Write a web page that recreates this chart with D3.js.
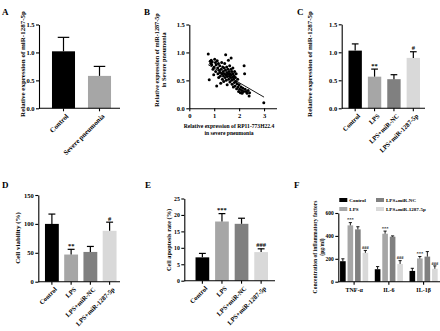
<!DOCTYPE html>
<html>
<head>
<meta charset="utf-8">
<script src="https://cdn.jsdelivr.net/npm/d3@7/dist/d3.min.js"></script>
<style>
body { margin: 0; background: #fff; }
svg text { font-family: "Liberation Serif", "Times New Roman", serif; font-weight: bold; fill: #000; }
</style>
</head>
<body>
<svg id="fig" width="440" height="331"></svg>
<script>
// ---- data ----
var aGroups = ["Control", "Severe pneumonia"],
    aMeans = [1.02, 0.58],
    aErrs = [0.25, 0.17];

// B: scatter (RP11-773H22.4 vs miR-1287-5p)
var bX = [0.76,0.80,0.84,0.86,0.88,0.90,0.92,0.95,0.98,1.00,
          1.02,1.05,1.06,1.08,1.10,1.12,1.14,1.15,1.17,1.18,
          1.20,1.22,1.23,1.25,1.26,1.28,1.30,1.31,1.33,1.34,
          1.36,1.37,1.38,1.40,1.41,1.42,1.44,1.45,1.46,1.47,
          1.48,1.50,1.51,1.52,1.53,1.55,1.56,1.57,1.58,1.60,
          1.61,1.62,1.63,1.64,1.66,1.67,1.68,1.69,1.70,1.71,
          1.72,1.74,1.75,1.76,1.77,1.78,1.80,1.81,1.82,1.84,
          1.85,1.87,1.88,1.90,1.92,1.94,1.96,1.98,2.00,2.02,
          2.05,2.08,2.10,2.12,2.15,2.18,2.20,2.22,2.24,2.28,
          2.32,2.36,2.40,2.42,2.99];
var bY = [0.97,0.51,0.84,0.80,0.86,0.78,0.83,0.70,0.60,0.74,
          0.88,0.82,0.66,0.78,0.40,0.85,0.72,0.62,0.80,0.55,
          0.68,0.76,0.64,0.58,0.45,0.70,0.82,0.62,0.52,0.74,
          0.66,0.58,0.48,0.72,0.62,0.80,0.55,0.68,0.96,0.60,
          0.50,0.74,0.64,0.42,0.57,0.70,0.62,0.86,0.52,0.66,
          0.58,0.76,0.47,0.62,0.55,0.70,0.90,0.60,0.50,0.66,
          0.43,0.56,0.72,0.62,0.38,0.52,0.58,0.46,0.66,0.40,
          0.55,0.48,0.62,0.35,0.44,0.52,0.38,0.30,0.42,0.34,
          0.28,0.38,0.32,0.27,0.36,0.30,0.76,0.62,0.34,0.30,
          0.27,0.32,0.22,0.28,0.10];
var bFitX = [0.76, 3.0],
    bFitY = [0.78, 0.20];

var cellGroups = ["Control", "LPS", "LPS+miR-NC", "LPS+miR-1287-5p"];
var cMeans = [1.03, 0.565, 0.52, 0.90],
    cErrs = [0.12, 0.135, 0.08, 0.11],
    cMarks = ["", "**", "", "#"];
var dMeans = [100, 47, 51.5, 88],
    dErrs = [17, 9, 9.5, 15],
    dMarks = ["", "**", "", "#"];
var eMeans = [7.1, 18, 17.3, 8.7],
    eErrs = [1.2, 2.4, 1.7, 1.0],
    eMarks = ["", "***", "", "###"];
var eTicks = [0, 5, 10, 15, 20, 25];

var fFactors = ["TNF-α", "IL-6", "IL-1β"];
var fControl = [179, 109, 94],
    fLPS = [492, 419, 203],
    fNC = [457, 393, 219],
    f1287 = [252, 155, 113];
var fControlErr = [21, 23, 23],
    fLPSErr = [24, 23, 17],
    fNCErr = [23, 7, 44],
    f1287Err = [21, 29, 25];
var fLPSMarks = ["***", "***", "***"],
    f1287Marks = ["###", "###", "###"];

var barColors = ["#000000", "#a6a6a6", "#808080", "#d9d9d9"];

var svg = d3.select("#fig");

function yLabel(lines, x, cy, size, gap){
  lines.forEach(function(t, i){
    svg.append("text")
      .attr("transform", "translate(" + (x + i * gap) + "," + cy + ") rotate(-90)")
      .attr("text-anchor", "middle")
      .style("font-size", size + "px")
      .text(t);
  });
}

function letter(t, x, y){
  svg.append("text").attr("x", x).attr("y", y).style("font-size", "9px").text(t);
}

function styleAxis(g, size){
  g.selectAll("path, line").attr("stroke", "#000").attr("stroke-width", 1.1);
  g.selectAll("text").style("font-size", size + "px").style("font-family", null);
}

// generic bar panel with upper error bars
function barPanel(o){
  var g = svg.append("g");
  var y = d3.scaleLinear().domain(o.domain).range([o.bottom, o.top]);
  var x = d3.scaleBand().domain(o.cats).range(o.band)
    .paddingInner(o.pi).paddingOuter(o.po);

  var bars = g.selectAll(".bar").data(o.means).enter();
  bars.append("rect")
    .attr("x", function(d, i){ return x(o.cats[i]); })
    .attr("width", x.bandwidth())
    .attr("y", function(d){ return y(d); })
    .attr("height", function(d){ return o.bottom - y(d); })
    .attr("fill", function(d, i){ return o.colors[i]; });

  // error bars
  o.means.forEach(function(m, i){
    var cx = x(o.cats[i]) + x.bandwidth() / 2,
        top = y(m + o.errs[i]),
        cw = x.bandwidth() * 0.25;
    g.append("line").attr("x1", cx).attr("x2", cx).attr("y1", y(m)).attr("y2", top)
      .attr("stroke", "#000").attr("stroke-width", 1.2);
    g.append("line").attr("x1", cx - cw).attr("x2", cx + cw).attr("y1", top).attr("y2", top)
      .attr("stroke", "#000").attr("stroke-width", 1.2);
    if (o.marks && o.marks[i]) {
      g.append("text").attr("x", cx).attr("y", top - 1.5)
        .attr("text-anchor", "middle").style("font-size", "6.5px").text(o.marks[i]);
    }
  });

  // y axis
  var ya = g.append("g").attr("transform", "translate(" + o.axisX + ",0)")
    .call(d3.axisLeft(y).tickValues(o.ticks).tickFormat(o.fmt).tickSize(3).tickSizeOuter(0).tickPadding(1.5));
  styleAxis(ya, o.labelSize || 6.5);

  // x axis
  var xa = g.append("g").attr("transform", "translate(0," + o.bottom + ")")
    .call(d3.axisBottom(x).tickSize(3).tickSizeOuter(0));
  xa.select(".domain").attr("d", "M" + o.axisX + ",0H" + o.axisEnd);
  styleAxis(xa, o.catSize || 6.5);
  xa.selectAll("text")
    .attr("text-anchor", "end")
    .attr("transform", "rotate(-45)")
    .attr("dx", "-0.3em")
    .attr("dy", "0.55em");
  return g;
}

// ---- A ----
letter("A", 2, 15);
barPanel({
  cats: aGroups, means: aMeans, errs: aErrs,
  colors: ["#000000", "#a6a6a6"],
  domain: [0, 1.5], top: 24.5, bottom: 108.3,
  band: [45.5, 117.5], pi: 0.36, po: 0.18,
  axisX: 39, axisEnd: 120,
  ticks: [0, 0.5, 1.0, 1.5], fmt: d3.format(".1f"),
  catSize: 7
});
yLabel(["Relative expression of miR-1287-5p"], 25, 64, 7, 0);

// ---- B ----
letter("B", 144, 15);
(function(){
  var g = svg.append("g");
  var x = d3.scaleLinear().domain([0, 3.5]).range([189.3, 276.5]);
  var y = d3.scaleLinear().domain([0, 1.5]).range([108.3, 24.5]);
  g.selectAll("circle").data(bX).enter().append("circle")
    .attr("cx", function(d){ return x(d); })
    .attr("cy", function(d, i){ return y(bY[i]); })
    .attr("r", 1.5).attr("fill", "#000");
  g.append("line")
    .attr("x1", x(bFitX[0])).attr("y1", y(bFitY[0]))
    .attr("x2", x(bFitX[1])).attr("y2", y(bFitY[1]))
    .attr("stroke", "#000").attr("stroke-width", 0.9);
  var ya = g.append("g").attr("transform", "translate(189.3,0)")
    .call(d3.axisLeft(y).tickValues([0, 0.5, 1.0, 1.5]).tickFormat(d3.format(".1f")).tickSize(3).tickSizeOuter(0).tickPadding(1.5));
  styleAxis(ya, 6.5);
  var xa = g.append("g").attr("transform", "translate(0,108.3)")
    .call(d3.axisBottom(x).tickValues([0, 1, 2, 3]).tickFormat(d3.format("d")).tickSize(3).tickSizeOuter(0).tickPadding(2));
  styleAxis(xa, 6.5);
  svg.append("text").attr("x", 229).attr("y", 128).attr("text-anchor", "middle")
    .style("font-size", "5.6px").text("Relative expression of RP11-773H22.4");
  svg.append("text").attr("x", 229).attr("y", 135).attr("text-anchor", "middle")
    .style("font-size", "5.6px").text("in severe pneumonia");
})();
yLabel(["Relative expression of miR-1287-5p", "in Severe pneumonia"], 159, 60, 6.2, 7);

// ---- C ----
letter("C", 297, 15);
barPanel({
  cats: cellGroups, means: cMeans, errs: cErrs, marks: cMarks,
  colors: barColors,
  domain: [0, 1.5], top: 24.3, bottom: 108.3,
  band: [345, 423.5], pi: 0.31, po: 0.18,
  axisX: 341.7, axisEnd: 425,
  ticks: [0, 0.5, 1.0, 1.5], fmt: d3.format(".1f")
});
yLabel(["Relative expression of miR-1287-5p"], 312, 64, 7, 0);

// ---- D ----
letter("D", 2, 188);
barPanel({
  cats: cellGroups, means: dMeans, errs: dErrs, marks: dMarks,
  colors: barColors,
  domain: [0, 150], top: 195, bottom: 281.7,
  band: [41.5, 120], pi: 0.28, po: 0.18,
  axisX: 38.3, axisEnd: 120,
  ticks: [0, 50, 100, 150], fmt: d3.format("d")
});
yLabel(["Cell viability (%)"], 20, 238, 7, 0);

// ---- E ----
letter("E", 145, 188);
barPanel({
  cats: cellGroups, means: eMeans, errs: eErrs, marks: eMarks,
  colors: barColors,
  domain: [0, 25], top: 198.5, bottom: 280.7,
  band: [192, 271.5], pi: 0.3, po: 0.18,
  axisX: 184.3, axisEnd: 275,
  ticks: eTicks, fmt: d3.format("d"),
  labelSize: 5.8
});
yLabel(["Cell apoptosis rate (%)"], 171, 240, 6.3, 0);

// ---- F ----
letter("F", 294, 188);
(function(){
  var g = svg.append("g");
  var series = [fControl, fLPS, fNC, f1287],
      errs = [fControlErr, fLPSErr, fNCErr, f1287Err],
      marks = [null, fLPSMarks, null, f1287Marks],
      names = cellGroups;
  var y = d3.scaleLinear().domain([0, 600]).range([281.7, 213]);
  var x0 = d3.scaleBand().domain(fFactors).range([338.3, 439.4]).paddingInner(0.19).paddingOuter(0.05);
  var x1 = d3.scaleBand().domain(d3.range(4)).range([0, x0.bandwidth()]).paddingInner(0.25);

  fFactors.forEach(function(f, j){
    series.forEach(function(s, k){
      var bx = x0(f) + x1(k), cx = bx + x1.bandwidth() / 2, top = y(s[j] + errs[k][j]);
      g.append("rect").attr("x", bx).attr("width", x1.bandwidth())
        .attr("y", y(s[j])).attr("height", 281.7 - y(s[j]))
        .attr("fill", barColors[k]);
      g.append("line").attr("x1", cx).attr("x2", cx).attr("y1", y(s[j])).attr("y2", top)
        .attr("stroke", "#000").attr("stroke-width", 0.9);
      g.append("line").attr("x1", cx - 1.6).attr("x2", cx + 1.6).attr("y1", top).attr("y2", top)
        .attr("stroke", "#000").attr("stroke-width", 0.9);
      if (marks[k]) {
        g.append("text").attr("x", cx).attr("y", top - 1.2).attr("text-anchor", "middle")
          .style("font-size", "4.5px").text(marks[k][j]);
      }
    });
  });

  var ya = g.append("g").attr("transform", "translate(338.3,0)")
    .call(d3.axisLeft(y).tickValues([0, 200, 400, 600]).tickFormat(d3.format("d")).tickSize(3).tickSizeOuter(0).tickPadding(1.5));
  styleAxis(ya, 5.5);
  var xa = g.append("g").attr("transform", "translate(0,281.7)")
    .call(d3.axisBottom(x0).tickSize(3).tickSizeOuter(0).tickPadding(3));
  xa.select(".domain").attr("d", "M338.3,0H440");
  styleAxis(xa, 6);

  // legend
  var legPos = [[339.3, 200], [339.3, 209], [376, 200], [376, 209]];
  names.forEach(function(n, k){
    var p = legPos[k];
    g.append("rect").attr("x", p[0]).attr("y", p[1] - 2).attr("width", 8).attr("height", 4)
      .attr("fill", barColors[k]);
    g.append("text").attr("x", p[0] + 10).attr("y", p[1] + 1.8)
      .style("font-size", "5px").text(n);
  });
})();
yLabel(["Concentration of inflammatory factors", "(pg/ml)"], 317, 247, 5.6, 6.5);
</script>
</body>
</html>
